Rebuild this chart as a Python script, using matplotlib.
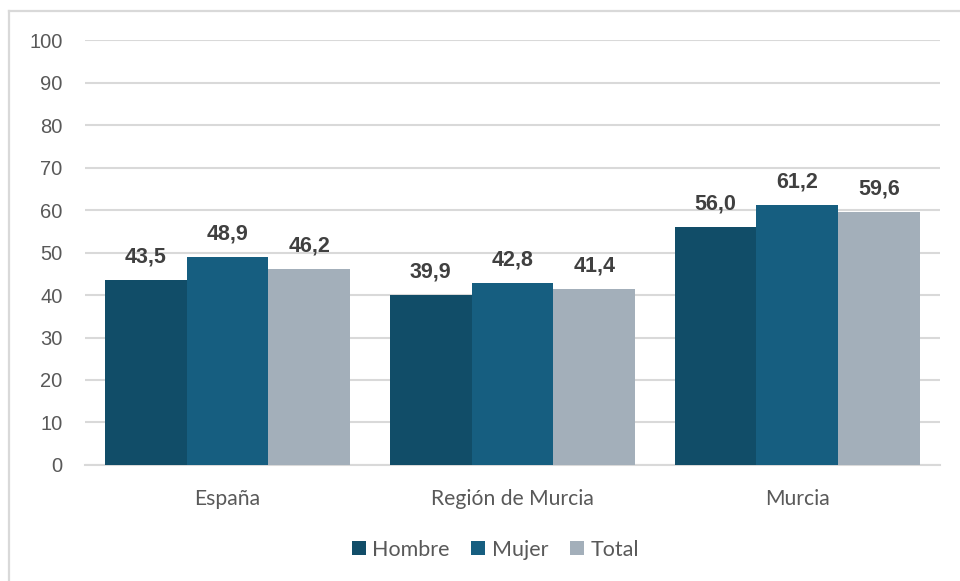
import numpy as np
import matplotlib.pyplot as plt
from matplotlib.lines import Line2D

zonas = ["España", "Región de Murcia", "Murcia"]
hombre = [43.5, 39.9, 56.0]
mujer = [48.9, 42.8, 61.2]
total = [46.2, 41.4, 59.6]
series = ["Hombre", "Mujer", "Total"]
colores = ["#114d68", "#165e80", "#a3afba"]

fig = plt.figure(figsize=(9.6, 5.81), dpi=100)
ax = fig.add_axes([0.0885, 0.1997, 0.8905, 0.7313])

x = np.arange(len(zonas))
ancho = 0.287
for i, (datos, nombre, c) in enumerate(zip([hombre, mujer, total], series, colores)):
    barras = ax.bar(x + (i - 1) * ancho, datos, ancho, color=c, label=nombre, zorder=3)
    for b, v in zip(barras, datos):
        ax.annotate(f"{v:.1f}".replace(".", ","),
                    (b.get_x() + b.get_width() / 2, v),
                    xytext=(0, 9), textcoords="offset points",
                    ha="center", va="bottom", fontsize=15.5, fontweight="bold",
                    color="#404040", family="Liberation Sans")

ax.set_xlim(-0.5, 2.5)
ax.set_ylim(0, 100)
ax.set_yticks(range(0, 101, 10))
ax.yaxis.grid(True, color="#d9d9d9", linewidth=1.5, zorder=0)
ax.set_xticks(x)
ax.set_xticklabels(zonas, fontsize=15.2, color="#595959", family="Lato")
for t in ax.get_yticklabels():
    t.set_family("Liberation Sans")
ax.tick_params(axis="y", labelsize=14.5, labelcolor="#595959", length=0, pad=16)
ax.tick_params(axis="x", length=0, pad=17)
for lado in ["top", "right", "left"]:
    ax.spines[lado].set_visible(False)
ax.spines["bottom"].set_color("#d9d9d9")
ax.spines["bottom"].set_linewidth(1.5)

ley = fig.legend(loc="center", bbox_to_anchor=(0.516, 0.054), ncol=3, frameon=False,
                 handlelength=0.65, handleheight=0.65, handletextpad=0.3,
                 columnspacing=1.0, prop={"family": "Lato", "size": 15.5})
for t in ley.get_texts():
    t.set_color("#595959")

# marco del gráfico
fig.add_artist(Line2D([9 / 960, 1], [1 - 11 / 581] * 2, color="#d9d9d9", linewidth=1.6))
fig.add_artist(Line2D([9 / 960] * 2, [0, 1 - 11 / 581], color="#d9d9d9", linewidth=1.6))

fig.savefig("out.png", dpi=100)
